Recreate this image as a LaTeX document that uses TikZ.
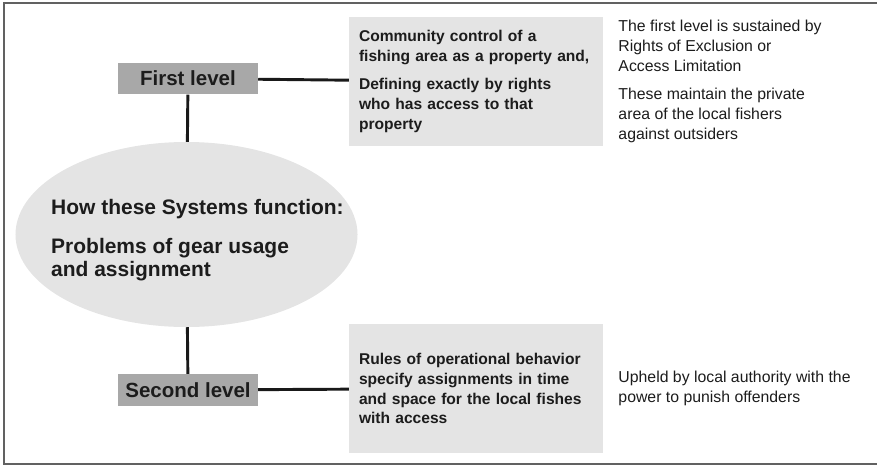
\documentclass[tikz,border=0pt]{standalone}
\usepackage{fontspec}
\setmainfont{Liberation Sans}
\usepackage{xcolor}
\usetikzlibrary{positioning, shapes.geometric}
\definecolor{levelgray}{HTML}{A8A8A8}
\definecolor{boxgray}{HTML}{E4E4E4}
\definecolor{inkgray}{HTML}{1C1C1C}
\tikzset{
  level/.style={fill=levelgray, minimum width=4.2cm, minimum height=0.95cm,
                inner sep=0pt, font=\fontsize{17.5}{21}\selectfont\bfseries, text=inkgray},
  infobox/.style={fill=boxgray, text width=7.02cm, inner xsep=0.3cm, align=left,
                  font=\fontsize{13.3}{17}\selectfont\bfseries, text=inkgray},
  note/.style={align=left, inner sep=0pt, text=inkgray,
               font=\fontsize{13.5}{17}\selectfont},
  link/.style={line width=2.5pt, black!90}
}
\begin{document}
\begin{tikzpicture}[x=0.03cm, y=-0.03cm]
\useasboundingbox (0,0) rectangle (877,466);

% Frame (open on the right)
\draw[line width=1.7pt, black!62] (877,3) -- (4,3) -- (4,464) -- (877,464);

% Central question
\node[ellipse, fill=boxgray, minimum width=10.26cm, minimum height=5.55cm,
      inner sep=0pt] (core) at (186.5,234.5) {};
\node[anchor=west, align=left, inner sep=0pt, text=inkgray,
      font=\fontsize{17.9}{19.6}\selectfont\bfseries] (coretext) at (51,240.5)
  {How these Systems function:\\[0.48cm]Problems of gear usage\\and assignment};

% Levels
\node[level] (first)  at (188,78.5) {First level};
\node[level] (second) at (188,390)  {Second level};

% Grey explanation boxes
\node[infobox, minimum height=3.87cm] (rights) at (476,81.5)
  {Community control of a\\fishing area as a property and,\\[0.25cm]%
   Defining exactly by rights\\who has access to that\\property};
\node[infobox, minimum height=3.87cm] (rules) at (476,388.5)
  {Rules of operational behavior\\specify assignments in time\\%
   and space for the local fishes\\with access};

% Side notes
\node[note, right=0.45cm of rights] (exclusion)
  {The first level is sustained by\\Rights of Exclusion or\\Access Limitation\\[0.25cm]%
   These maintain the private\\area of the local fishers\\against outsiders};
\node[note, right=0.45cm of rules] (authority)
  {Upheld by local authority with the\\power to punish offenders};

% Connectors
\draw[link] (first) -- (core);
\draw[link] (core) -- (second);
\draw[link] (first) -- (rights);
\draw[link] (second) -- (rules);

\end{tikzpicture}
\end{document}
